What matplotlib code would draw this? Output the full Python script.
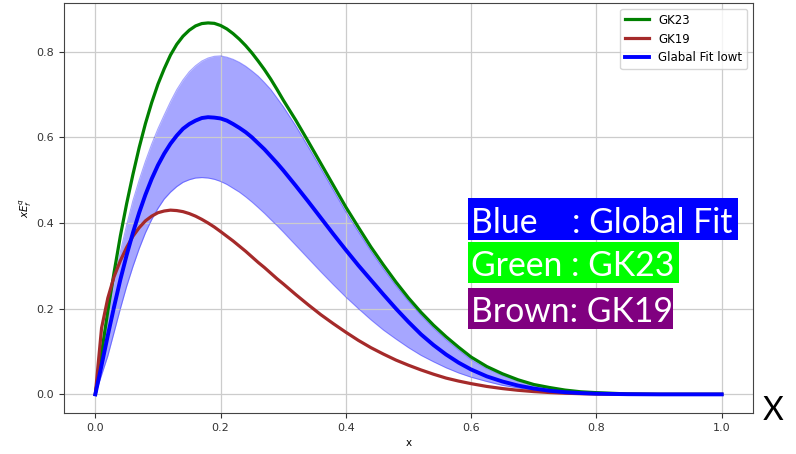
import matplotlib
matplotlib.use("Agg")
import matplotlib.pyplot as plt
from matplotlib.patches import Rectangle

# ---- data ----
x_vals = [0.00, 0.01, 0.02, 0.03, 0.04, 0.05, 0.06, 0.07, 0.08, 0.09, 0.10,
          0.11, 0.12, 0.13, 0.14, 0.15, 0.16, 0.17, 0.18, 0.19, 0.20,
          0.21, 0.22, 0.23, 0.24, 0.25, 0.26, 0.27, 0.28, 0.29, 0.30,
          0.32, 0.34, 0.36, 0.38, 0.40, 0.42, 0.44, 0.46, 0.48, 0.50,
          0.52, 0.54, 0.56, 0.58, 0.60,
          0.625, 0.65, 0.675, 0.70, 0.725, 0.75, 0.775, 0.80,
          0.85, 0.90, 0.95, 1.00]
gk23 = [0, 0.097, 0.195, 0.285, 0.37, 0.445, 0.513, 0.576, 0.632, 0.681, 0.724,
        0.760, 0.792, 0.817, 0.836, 0.850, 0.860, 0.8655, 0.867, 0.866, 0.861,
        0.853, 0.842, 0.829, 0.814, 0.797, 0.778, 0.758, 0.736, 0.712, 0.687,
        0.640, 0.590, 0.539, 0.488, 0.437, 0.390, 0.344, 0.302, 0.262, 0.225,
        0.1915, 0.1614, 0.1345, 0.110, 0.087,
        0.065, 0.048, 0.034, 0.023, 0.016, 0.010, 0.006, 0.004,
        0.001, 0, 0, 0]
gk19 = [0, 0.155, 0.225, 0.275, 0.312, 0.343, 0.369, 0.389, 0.405, 0.416, 0.424,
        0.428, 0.430, 0.429, 0.4265, 0.422, 0.416, 0.4085, 0.400, 0.3906, 0.380,
        0.369, 0.358, 0.346, 0.334, 0.321, 0.308, 0.296, 0.283, 0.270, 0.258,
        0.233, 0.209, 0.186, 0.165, 0.145, 0.126, 0.109, 0.094, 0.080, 0.068,
        0.057, 0.047, 0.038, 0.031, 0.025,
        0.0185, 0.0135, 0.0095, 0.0065, 0.0043, 0.0027, 0.0016, 0.0009,
        0.0002, 0, 0, 0]
global_fit = [0, 0.068, 0.138, 0.205, 0.268, 0.325, 0.377, 0.424, 0.466, 0.503, 0.535,
              0.562, 0.585, 0.604, 0.620, 0.631, 0.639, 0.645, 0.647, 0.646, 0.644,
              0.639, 0.631, 0.622, 0.612, 0.600, 0.586, 0.572, 0.556, 0.540, 0.523,
              0.487, 0.450, 0.412, 0.374, 0.337, 0.301, 0.267, 0.233, 0.200, 0.169,
              0.140, 0.115, 0.093, 0.074, 0.058,
              0.042, 0.030, 0.0205, 0.0136, 0.0085, 0.005, 0.003, 0.0015,
              0.0004, 0, 0, 0]
band_upper = [0, 0.095, 0.183, 0.263, 0.333, 0.395, 0.452, 0.500, 0.544, 0.584, 0.620,
              0.652, 0.683, 0.711, 0.734, 0.753, 0.767, 0.778, 0.785, 0.789, 0.790,
              0.787, 0.782, 0.775, 0.766, 0.755, 0.743, 0.728, 0.712, 0.692, 0.672,
              0.627, 0.578, 0.528, 0.477, 0.426, 0.380, 0.335, 0.293, 0.254, 0.218,
              0.185, 0.155, 0.128, 0.104, 0.081,
              0.060, 0.044, 0.031, 0.021, 0.014, 0.009, 0.005, 0.003,
              0.001, 0, 0, 0]
band_lower = [0, 0.045, 0.09, 0.145, 0.2, 0.252, 0.298, 0.34, 0.377, 0.408, 0.434,
              0.456, 0.472, 0.485, 0.495, 0.501, 0.505, 0.506, 0.505, 0.502, 0.497,
              0.490, 0.481, 0.472, 0.461, 0.449, 0.436, 0.4225, 0.408, 0.394, 0.379,
              0.348, 0.317, 0.286, 0.256, 0.227, 0.200, 0.174, 0.150, 0.129, 0.109,
              0.091, 0.076, 0.062, 0.050, 0.040,
              0.030, 0.021, 0.015, 0.010, 0.0066, 0.004, 0.0024, 0.0013,
              0.0003, 0, 0, 0]
series_labels = ["GK23", "GK19", "Glabal Fit lowt"]
xticks = [0.0, 0.2, 0.4, 0.6, 0.8, 1.0]
yticks = [0.0, 0.2, 0.4, 0.6, 0.8]
overlay_texts = ["Blue    : Global Fit", "Green : GK23", "Brown: GK19"]

W, H = 796, 454
fig = plt.figure(figsize=(W / 100, H / 100), dpi=100)
ax = fig.add_axes([64 / W, 1 - 413 / H, (753 - 64) / W, (413 - 3) / H])

ax.fill_between(x_vals, band_lower, band_upper, color="blue", alpha=0.35, linewidth=0)
ax.plot(x_vals, band_upper, color="blue", alpha=0.35, lw=0.8)
ax.plot(x_vals, band_lower, color="blue", alpha=0.35, lw=0.8)
ax.plot(x_vals, gk23, color="green", lw=2.3, label=series_labels[0])
ax.plot(x_vals, gk19, color="#a52a2a", lw=2.3, label=series_labels[1])
ax.plot(x_vals, global_fit, color="blue", lw=2.8, label=series_labels[2])

ax.set_xlim(-0.05, 1.05)
ax.set_ylim(-0.0435, 0.9135)
ax.set_xticks(xticks)
ax.set_yticks(yticks)
ax.tick_params(labelsize=8, colors="#333333")
ax.grid(True, color="#cccccc", lw=0.9)
for s in ax.spines.values():
    s.set_color("#444444")
ax.set_xlabel("x", fontsize=7.5, labelpad=4)
ax.set_ylabel(r"$xE^q_f$", fontsize=7.5, labelpad=1.5)
ax.legend(loc="upper right", fontsize=8.5, framealpha=0.8, borderaxespad=0.5)

# overlay coloured boxes with white text (pixel positions from the reference)
boxes = [
    (468, 198, 738, 240, "#0000ff", 233),
    (468, 242, 679, 283, "#00ff00", 276),
    (468, 288, 673, 329, "#800080", 322),
]
for (x0, y0, x1, y1, col, base), txt in zip(boxes, overlay_texts):
    fig.patches.append(Rectangle((x0 / W, 1 - y1 / H), (x1 - x0) / W, (y1 - y0) / H,
                                 transform=fig.transFigure, facecolor=col,
                                 edgecolor="none", zorder=5))
    fig.text(471 / W, 1 - base / H, txt, color="white", fontsize=24.3,
             family="Lato", va="baseline", ha="left", zorder=6)

fig.text(773 / W, 1 - 420 / H, "X", fontsize=23, family="Lato", color="black",
         va="baseline", ha="center")

fig.savefig("out.png", dpi=100)
